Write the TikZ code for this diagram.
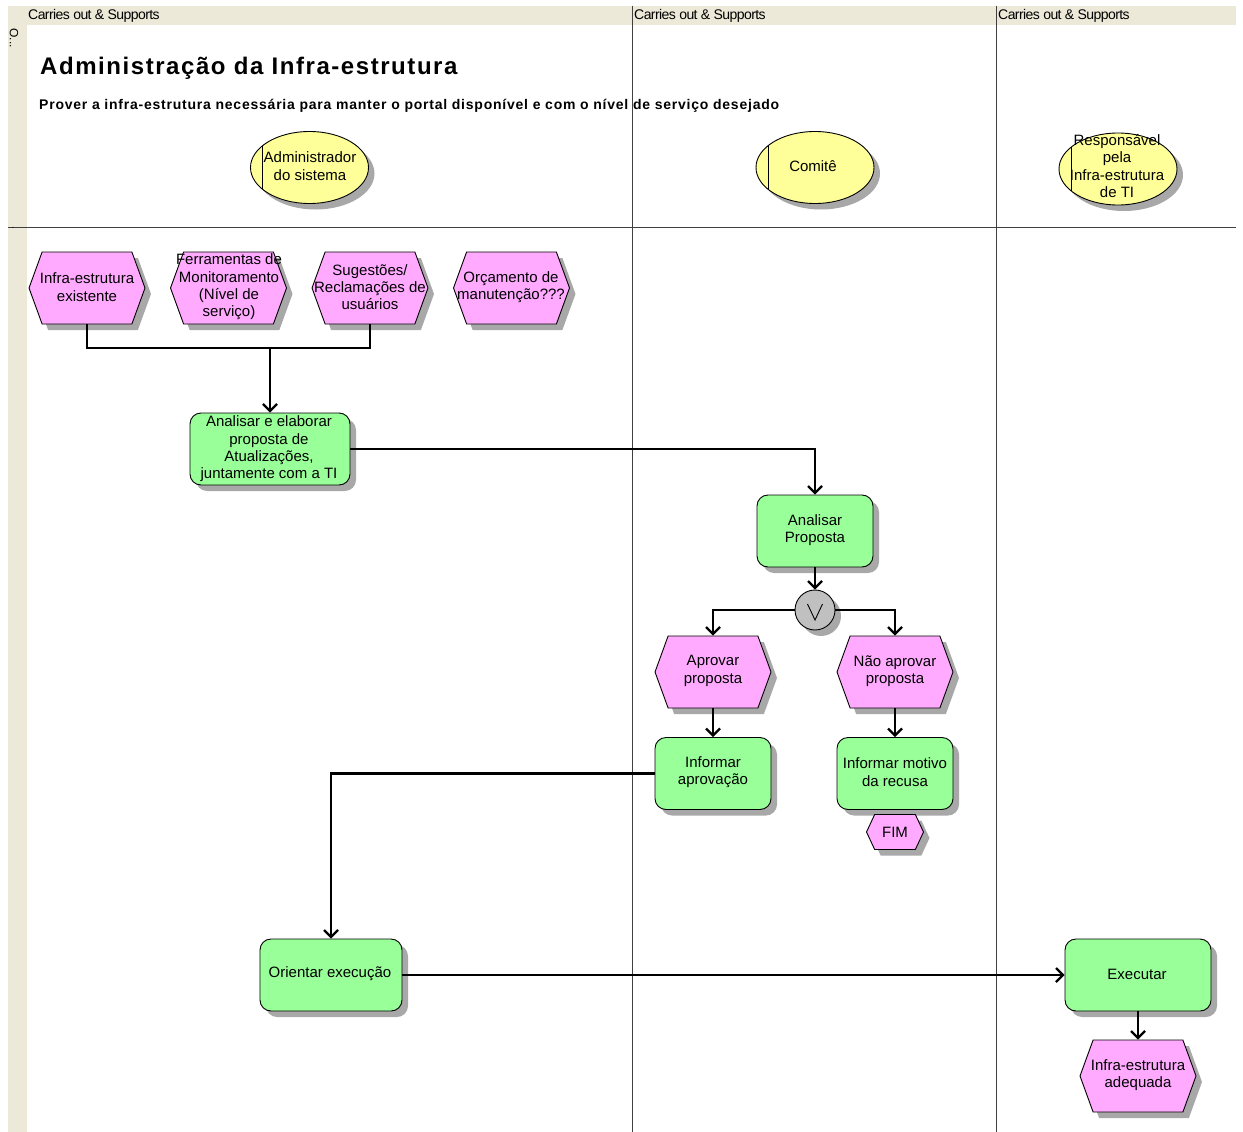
\documentclass[tikz,border=0pt]{standalone}
\usepackage{fontspec}
\setmainfont{Liberation Sans}
\newfontfamily\hdrfont[LetterSpace=-4]{Liberation Sans}
\newfontfamily\ttlfont[LetterSpace=6.5]{Liberation Sans}
\newfontfamily\subfont[LetterSpace=5.5]{Liberation Sans}
\usetikzlibrary{shapes.geometric,shapes.symbols,shadows,arrows.meta}
\definecolor{funcg}{HTML}{99FF99}
\definecolor{evtp}{HTML}{FFAAFF}
\definecolor{orgy}{HTML}{FFFF99}
\definecolor{band}{HTML}{ECE9D8}
\definecolor{xorg}{HTML}{C0C0C0}
\definecolor{shad}{HTML}{A8A8A8}
\definecolor{lanec}{HTML}{404040}
\begin{document}
\begin{tikzpicture}[x=1pt,y=-1pt,
  shd/.style={drop shadow={shadow xshift=6pt,shadow yshift=-6pt,fill=shad,opacity=1}},
  func/.style={draw=black,line width=0.9pt,fill=funcg,rounded corners=11pt,minimum width=116pt,minimum height=72pt,inner sep=0pt,shd},
  evt/.style={draw=black,line width=0.9pt,fill=evtp,signal,signal to=west and east,signal pointer angle=140,minimum width=116pt,minimum height=72pt,inner sep=0pt,shd},
  org/.style={draw=black,line width=0.9pt,fill=orgy,ellipse,minimum width=118pt,minimum height=72pt,inner sep=0pt,shd},
  xorn/.style={draw=black,line width=0.9pt,fill=xorg,circle,minimum size=40pt,inner sep=0pt,shd},
  txt/.style={align=center,inner sep=0pt,font=\fontsize{15}{17.3}\selectfont},
  hdr/.style={anchor=base west,inner sep=0pt,font=\hdrfont\fontsize{14}{14}\selectfont},
  lane/.style={line width=0.9pt,lanec},
  thin/.style={line width=0.9pt,black},
  conn/.style={line width=2.2pt,black},
  arr/.style={conn,-{Straight Barb[length=7pt,width=14pt]}}
]
\useasboundingbox (0,0) rectangle (1243,1132);
% lanes
\fill[band] (8,6) rectangle (1236,25);
\fill[band] (8,6) rectangle (27,1132);
\draw[lane] (8,227) -- (1236,227);
\draw[lane] (632,6) -- (632,1132);
\draw[lane] (996,6) -- (996,1132);
\node[hdr] (h1) at (28,20) {Carries out \& Supports};
\node[hdr] (h2) at (634,20) {Carries out \& Supports};
\node[hdr] (h3) at (998,20) {Carries out \& Supports};
\node[inner sep=0pt,rotate=-90,font=\fontsize{12}{12}\selectfont] (lt1) at (14,38) {O...};
\node[inner sep=0pt,font=\fontsize{10}{10}\selectfont] (lt2) at (13,228) {.};
% title
\node[anchor=base west,inner sep=0pt,font=\ttlfont\bfseries\fontsize{24}{28}\selectfont] (title) at (40,75) {Administração da Infra-estrutura};
\node[anchor=base west,inner sep=0pt,font=\subfont\bfseries\fontsize{14}{16}\selectfont] (sub) at (39,110) {Prover a infra-estrutura necessária para manter o portal disponível e com o nível de serviço desejado};
% organisational units
\node[org] (o1) at (309.5,167.5) {};
\node[org] (o2) at (815,167.5) {};
\node[org] (o3) at (1118,169) {};
\foreach \o in {o1,o2,o3}{\draw[thin] ([shift={(-47,-21.8)}]\o.center) -- ([shift={(-47,21.8)}]\o.center);}
\node[txt] (o1t) at (310,166) {Administrador\\do sistema};
\node[txt] (o2t) at (813,166) {Comitê};
\node[txt] (o3t) at (1117,166) {Responsável\\pela\\Infra-estrutura\\de TI};
% events top row
\node[evt] (e1) at (87,288) {};
\node[evt] (e2) at (228.5,288) {};
\node[evt] (e3) at (370,288) {};
\node[evt] (e4) at (511.5,288) {};
\node[txt] (e1t) at (87,287) {Infra-estrutura\\existente};
\node[txt] (e2t) at (229,287) {Ferramentas de\\Monitoramento\\(Nível de\\serviço)};
\node[txt] (e3t) at (370,287) {Sugestões/\\Reclamações de\\usuários};
\node[txt] (e4t) at (511,287) {Orçamento de\\manutenção???};
% functions
\node[func,minimum width=160pt] (f1) at (270,449) {};
\node[txt] (f1t) at (269,449) {Analisar e elaborar\\proposta de\\Atualizações,\\juntamente com a TI};
\node[func] (f2) at (815,531) {};
\node[txt] (f2t) at (815,530) {Analisar\\Proposta};
\node[xorn] (x1) at (815,610) {};
\draw[thin] ([shift={(-7.5,-6)}]x1.center) -- ([shift={(0,10)}]x1.center) -- ([shift={(7.5,-6)}]x1.center);
\node[evt] (e5) at (713,672) {};
\node[txt] (e5t) at (713,671) {Aprovar\\proposta};
\node[evt] (e6) at (895,672) {};
\node[txt] (e6t) at (895,671) {Não aprovar\\proposta};
\node[func] (f3) at (713,773.5) {};
\node[txt] (f3t) at (713,772) {Informar\\aprovação};
\node[func] (f4) at (895,773.5) {};
\node[txt] (f4t) at (895,772) {Informar motivo\\da recusa};
\node[evt,minimum width=57pt,minimum height=35pt,signal pointer angle=130] (e7) at (895,832) {};
\node[txt] (e7t) at (895,832) {FIM};
\node[func,minimum width=142pt] (f5) at (331,975) {};
\node[txt] (f5t) at (330,974) {Orientar execução};
\node[func,minimum width=146pt] (f6) at (1138,975) {};
\node[txt] (f6t) at (1137,974) {Executar};
\node[evt] (e8) at (1138,1076) {};
\node[txt] (e8t) at (1138,1075) {Infra-estrutura\\adequada};
% connectors
\coordinate (j1) at (f1.north |- 0,348);
\draw[conn] (e1.south) |- (j1);
\draw[conn] (e3.south) |- (j1);
\draw[arr] (j1) -- (f1.north);
\draw[arr] (f1.east) -| (f2.north);
\draw[arr] (f2.south) -- (x1.north);
\draw[arr] (x1.west) -| (e5.north);
\draw[arr] (x1.east) -| (e6.north);
\draw[arr] (e5.south) -- (f3.north);
\draw[arr] (e6.south) -- (f4.north);
\draw[arr] (f3.west) -| (f5.north);
\draw[arr] (f5.east) -- (f6.west);
\draw[arr] (f6.south) -- (e8.north);
\end{tikzpicture}
\end{document}
